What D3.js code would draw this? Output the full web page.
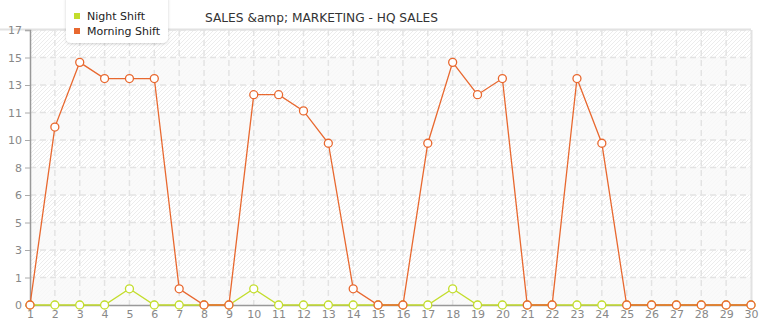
<!DOCTYPE html>
<html>
<head>
<meta charset="utf-8">
<script src="https://cdn.jsdelivr.net/npm/d3@7"></script>
<style>
    body { margin: 0; background: #fff; }
    #chart { width: 765px; height: 320px; overflow: hidden; }
    text { font-family: "DejaVu Sans", Verdana, sans-serif; }
</style>
</head>
<body>
<div id="chart"></div>
<script>
var days = d3.range(1, 31)
var nightShift = [0, 0, 0, 0, 1, 0, 0, 0, 0, 1, 0, 0, 0, 0, 0, 0, 0, 1, 0, 0, 0, 0, 0, 0, 0, 0, 0, 0, 0, 0]
var morningShift = [0, 11, 15, 14, 14, 14, 1, 0, 0, 13, 13, 12, 10, 1, 0, 0, 10, 15, 13, 14, 0, 0, 14, 10, 0, 0, 0, 0, 0, 0]
var yTicks = d3.range(0, 11).map(i => i * 1.7)
var seriesNames = ["Night Shift", "Morning Shift"]
var seriesColors = ["#c3dd2c", "#e8682f"]

var width = 765
var height = 320
var margin = ({ top: 30, right: 14, bottom: 15, left: 30 })

var svg = d3.select('#chart')
    .append('svg')
    .attr("width", width)
    .attr("height", height)

var defs = svg.append("defs")
var hatch = defs.append("pattern")
    .attr("id", "hatch")
    .attr("patternUnits", "userSpaceOnUse")
    .attr("width", 4)
    .attr("height", 4)
hatch.append("path")
    .attr("d", "M-1,1 l2,-2 M0,4 l4,-4 M3,5 l2,-2")
    .attr("stroke", "#ececec")
    .attr("stroke-width", 1)

var shadow = defs.append("filter").attr("id", "shadow")
    .attr("x", "-20%").attr("y", "-40%").attr("width", "140%").attr("height", "180%")
shadow.append("feDropShadow")
    .attr("dx", 0).attr("dy", 1).attr("stdDeviation", 1.5)
    .attr("flood-color", "#000").attr("flood-opacity", 0.18)

//scales
var xscale = d3.scalePoint()
    .domain(days)
    .range([margin.left, width - margin.right])

var yscale = d3.scaleLinear()
    .domain([0, 17])
    .range([height - margin.bottom, margin.top])

var x0 = margin.left, x1 = width - margin.right
var y0 = yscale(0), y1 = yscale(17)

// plot background
svg.append("rect")
    .attr("x", x0).attr("y", y1)
    .attr("width", x1 - x0).attr("height", y0 - y1)
    .attr("fill", "url(#hatch)")

// alternating light bands
svg.selectAll(".band")
    .data(yTicks.slice(0, -1).filter((d, i) => i % 2 == 0))
    .enter()
    .append("rect")
    .attr("class", "band")
    .attr("x", x0)
    .attr("width", x1 - x0)
    .attr("y", d => yscale(d + 1.7))
    .attr("height", d => yscale(d) - yscale(d + 1.7))
    .attr("fill", "#f9f9f9")
    .attr("fill-opacity", 0.85)

// grid
svg.append("g")
    .selectAll("line")
    .data(yTicks.slice(1))
    .enter()
    .append("line")
    .attr("x1", x0).attr("x2", x1)
    .attr("y1", d => yscale(d)).attr("y2", d => yscale(d))
    .attr("stroke", "#e3e3e3")
    .attr("stroke-width", 1.5)
    .attr("stroke-dasharray", "6,4")

svg.append("g")
    .selectAll("line")
    .data(days.slice(1, -1))
    .enter()
    .append("line")
    .attr("x1", d => xscale(d)).attr("x2", d => xscale(d))
    .attr("y1", y1).attr("y2", y0)
    .attr("stroke", "#e3e3e3")
    .attr("stroke-width", 1.5)
    .attr("stroke-dasharray", "6,4")

// top and right border
svg.append("line")
    .attr("x1", 0).attr("x2", x1)
    .attr("y1", y1 - 0.5).attr("y2", y1 - 0.5)
    .attr("stroke", "#e2e2e2").attr("stroke-width", 2)
svg.append("line")
    .attr("x1", x1 + 0.5).attr("x2", x1 + 0.5)
    .attr("y1", y1).attr("y2", y0)
    .attr("stroke", "#e2e2e2").attr("stroke-width", 2)

//axis Y
var yaxis = d3.axisLeft(yscale)
    .tickValues(yTicks)
    .tickFormat(d => Math.floor(d + 1e-9))
    .tickSize(5)
    .tickPadding(3)

svg.append("g")
    .attr("class", "axisY")
    .attr("transform", "translate(" + x0 + ",0)")
    .call(yaxis)
    .call(g => g.select(".domain").attr("stroke", "#999").attr("stroke-width", 1.5))
    .call(g => g.selectAll(".tick line").attr("stroke", "#aaa"))
    .call(g => g.selectAll(".tick text").attr("fill", "#888").style("font-size", "11px"))

//axis X
var xaxis = d3.axisBottom(xscale)
    .tickSize(0)
    .tickPadding(5)

svg.append("g")
    .attr("class", "axisX")
    .attr("transform", "translate(0," + y0 + ")")
    .call(xaxis)
    .call(g => g.select(".domain").attr("stroke", "#999").attr("stroke-width", 1.5))
    .call(g => g.selectAll(".tick text").attr("fill", "#888").style("font-size", "11px"))

// lines and markers
var series = [nightShift, morningShift]
var line = d3.line()
    .x((d, i) => xscale(days[i]))
    .y(d => yscale(d))

series.forEach(function(values, s) {
    var color = seriesColors[s]
    svg.append("path")
        .datum(values)
        .attr("fill", "none")
        .attr("stroke", color)
        .attr("stroke-width", 1.3)
        .attr("d", line)

    svg.append("g")
        .selectAll("circle")
        .data(values)
        .enter()
        .append("circle")
        .attr("cx", (d, i) => xscale(days[i]))
        .attr("cy", d => yscale(d))
        .attr("r", 4)
        .attr("fill", "#fff")
        .attr("stroke", color)
        .attr("stroke-width", 1.3)
})

// title
svg.append("text")
    .attr("x", 205)
    .attr("y", 22)
    .attr("fill", "#333")
    .style("font-size", "12.2px")
    .text("SALES &amp; MARKETING - HQ SALES")

// legend
var legend = svg.append("g").attr("transform", "translate(66,0)")
legend.append("rect")
    .attr("x", 0).attr("y", -6)
    .attr("width", 102).attr("height", 49)
    .attr("rx", 5)
    .attr("fill", "#fff")
    .attr("filter", "url(#shadow)")

var items = legend.selectAll(".item")
    .data(seriesNames)
    .enter()
    .append("g")
    .attr("class", "item")
    .attr("transform", (d, i) => "translate(0," + (16 + i * 15) + ")")
items.append("rect")
    .attr("x", 8).attr("y", -3)
    .attr("width", 6).attr("height", 6)
    .attr("fill", (d, i) => seriesColors[i])
items.append("text")
    .attr("x", 21)
    .attr("y", 4)
    .attr("fill", "#222")
    .style("font-size", "11px")
    .text(d => d)
</script>
</body>
</html>
